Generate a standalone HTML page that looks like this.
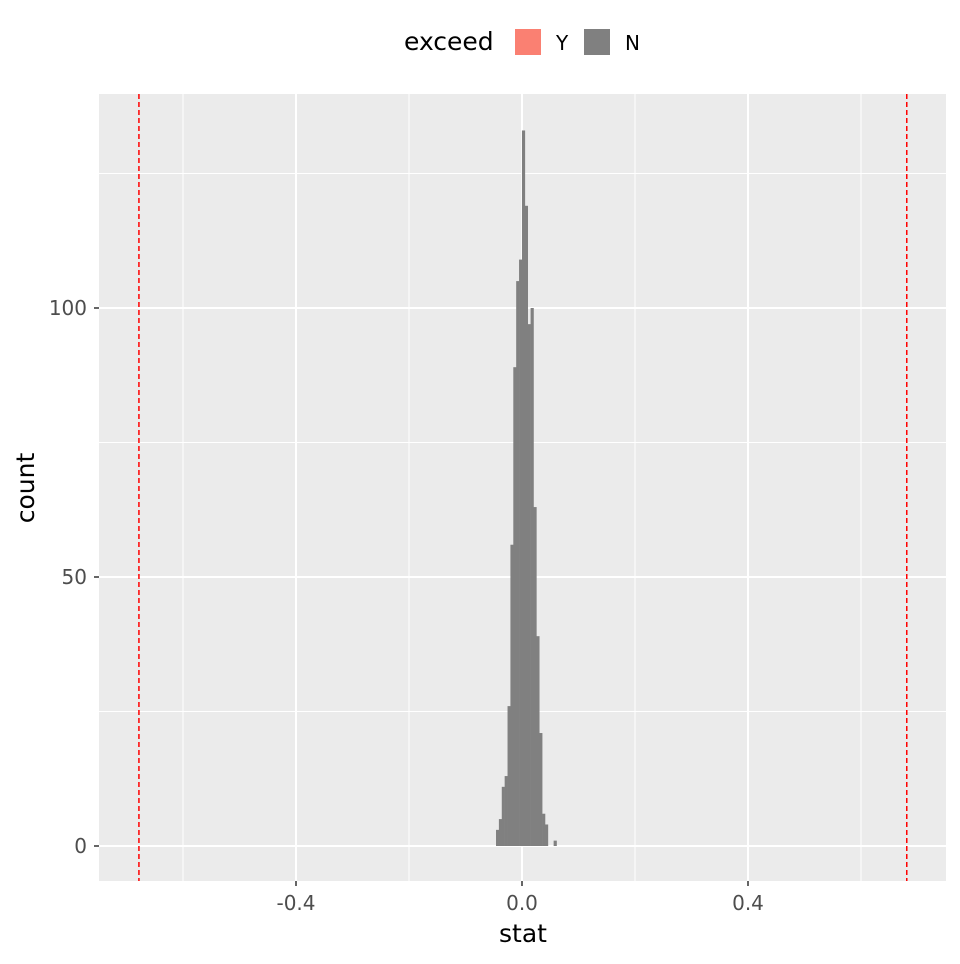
<!DOCTYPE html>
<html><head><meta charset="utf-8"><style>
body{margin:0;background:#fff;font-family:"DejaVu Sans","Liberation Sans",sans-serif}
</style></head><body>
<svg id="c" width="960" height="960" xmlns="http://www.w3.org/2000/svg">
<rect x="99" y="94" width="847" height="787" fill="#ebebeb"/>
<g id="grid"></g><g id="bars"></g><g id="vlines"></g><g id="axes"></g>
<g>
<text x="404" y="50" font-size="25" fill="#000">exceed</text>
<rect x="515" y="29" width="26" height="26" fill="#fa8072"/>
<text x="556" y="50" font-size="20">Y</text>
<rect x="584" y="29" width="26" height="26" fill="#808080"/>
<text x="625" y="50" font-size="20">N</text>
</g>
<text x="523" y="942" font-size="25" text-anchor="middle">stat</text>
<text transform="translate(34,488) rotate(-90)" font-size="25" text-anchor="middle">count</text>
</svg>
<script>
const binStart=-0.046, binWidth=0.0051;
const counts=[3,5,11,13,26,56,89,105,109,133,119,97,100,63,39,21,6,4,0,0,1];
const cutoffs=[-0.678,0.681];
const xTicks=[-0.4,0,0.4], xTickLabels=["-0.4","0.0","0.4"], xMinor=[-0.6,-0.2,0.2,0.6];
const yTicks=[0,50,100], yTickLabels=["0","50","100"], yMinor=[25,75,125];
const NS="http://www.w3.org/2000/svg";
const X=v=>522+v*565, Y=v=>846-v*5.38;
function mk(p,t,a){const e=document.createElementNS(NS,t);for(const k in a)e.setAttribute(k,a[k]);document.getElementById(p).appendChild(e);return e;}
xMinor.forEach(v=>{const e=mk('grid','line',{x1:X(v),x2:X(v),y1:94,y2:881,stroke:'#fff','stroke-width':1});

});
yMinor.forEach(v=>{const e=mk('grid','line',{x1:99,x2:946,y1:Y(v),y2:Y(v),stroke:'#fff','stroke-width':1});

});
xTicks.forEach((v,i)=>{const e=mk('grid','line',{x1:X(v),x2:X(v),y1:94,y2:881,stroke:'#fff','stroke-width':2});


const t=mk('axes','line',{x1:X(v),x2:X(v),y1:881,y2:886,stroke:'#333','stroke-width':1.5});


const l=mk('axes','text',{x:X(v),y:910,'font-size':20,fill:'#4d4d4d','text-anchor':'middle'});l.textContent=xTickLabels[i];

});
yTicks.forEach((v,i)=>{const e=mk('grid','line',{x1:99,x2:946,y1:Y(v),y2:Y(v),stroke:'#fff','stroke-width':2});


const t=mk('axes','line',{x1:94,x2:99,y1:Y(v),y2:Y(v),stroke:'#333','stroke-width':1.5});


const l=mk('axes','text',{x:87,y:Y(v)+7,'font-size':20,fill:'#4d4d4d','text-anchor':'end'});l.textContent=yTickLabels[i];

});
counts.forEach((c,i)=>{if(!c)return;const x0=X(binStart+i*binWidth),x1=X(binStart+(i+1)*binWidth);
const b=mk('bars','rect',{x:x0,y:Y(c),width:x1-x0+0.3,height:Y(0)-Y(c),fill:'#808080'});

});
cutoffs.forEach(v=>{const e=mk('vlines','line',{x1:X(v),x2:X(v),y1:94,y2:881,stroke:'#ff0000','stroke-width':1.5,'stroke-dasharray':'5,3'});

});
</script>
</body></html>
